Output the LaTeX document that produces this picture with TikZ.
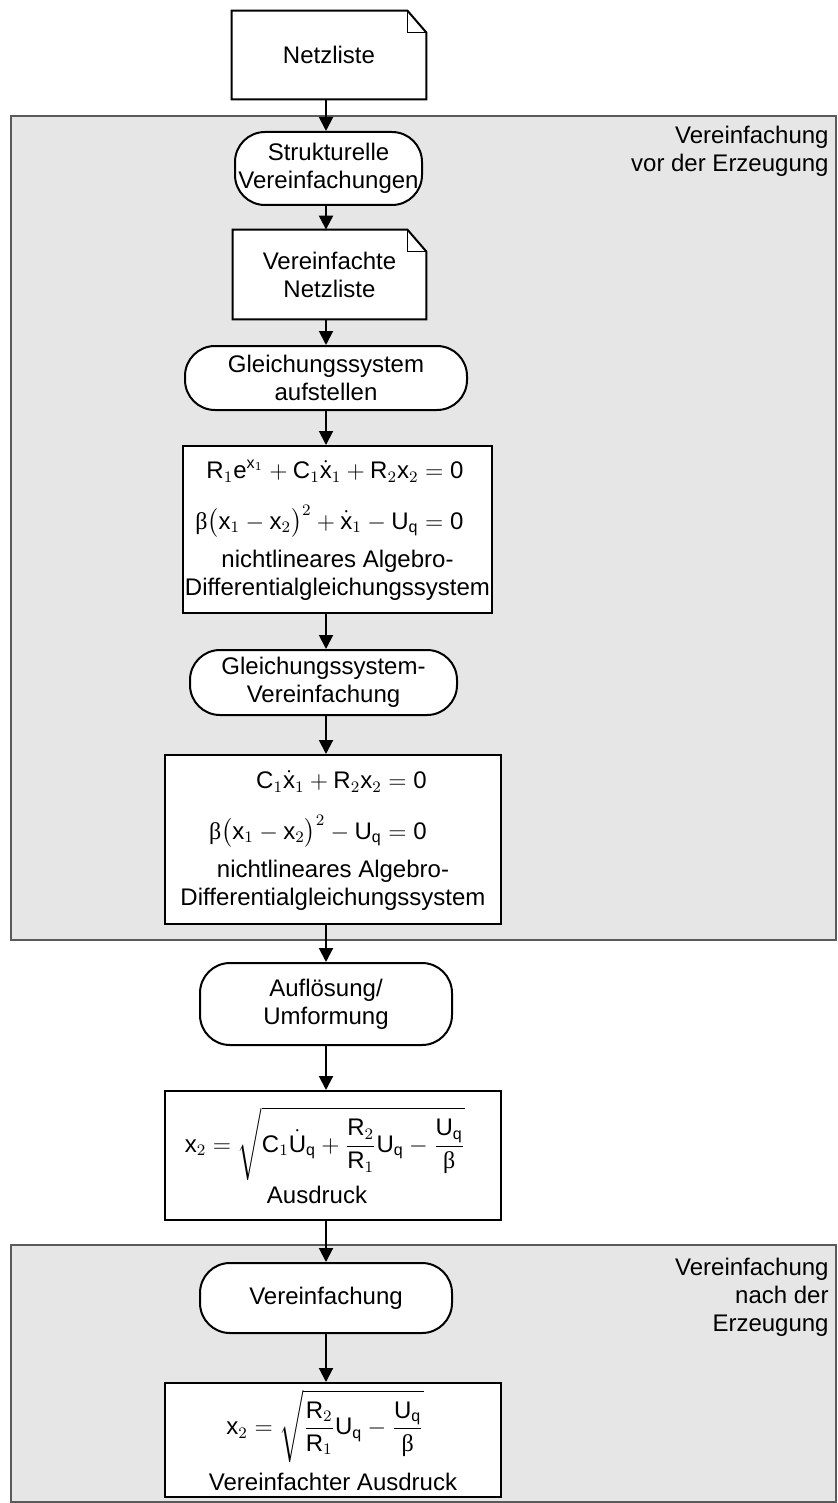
\documentclass[tikz,border=0pt]{standalone}
\usepackage{amsmath}
\usepackage{fontspec}
\setmainfont{Liberation Sans}
\newfontfamily\greekserif{Liberation Serif}
\usetikzlibrary{arrows.meta}
\pgfdeclarelayer{bg}
\pgfdeclarelayer{mid}
\pgfsetlayers{bg,mid,main}
\definecolor{groupgray}{RGB}{230,230,230}
\definecolor{groupedge}{RGB}{90,90,90}
\newcommand\T[1]{\text{#1}}
\newcommand\bt{\text{\greekserif β}}
% document symbol: rectangle with folded upper right corner
\newcommand\docshape[1]{%
  \begin{pgfonlayer}{mid}
    \draw[line width=1pt, fill=white, line join=miter]
      (#1.south west) -- (#1.north west) -- ([xshift=-9.5pt]#1.north east)
      -- ([yshift=-11pt]#1.north east) -- (#1.south east) -- cycle;
    \draw[line width=0.8pt] ([xshift=-9.5pt]#1.north east) |- ([yshift=-11pt]#1.north east);
  \end{pgfonlayer}}
\begin{document}
\begin{tikzpicture}[x=0.5pt, y=-0.5pt,
  font=\fontsize{12}{14}\selectfont,
  group/.style={fill=groupgray, draw=groupedge, line width=1pt},
  grouplabel/.style={anchor=north east, align=right, inner sep=0pt},
  proc/.style={draw, fill=white, rounded corners=15pt, line width=1pt, inner sep=0pt, align=center},
  res/.style={draw, fill=white, line width=1pt, inner sep=0pt, align=center},
  docnode/.style={inner sep=0pt, align=center},
  arr/.style={line width=1pt, -{Triangle[width=7pt,length=7pt]}}]
\useasboundingbox (0,0) rectangle (837,1503);

% groups
\begin{pgfonlayer}{bg}
  \draw[group] (11,116) rectangle (836,940);
  \draw[group] (11,1245) rectangle (836,1502);
\end{pgfonlayer}
\node[grouplabel] (g1) at (829,126) {Vereinfachung\\vor der Erzeugung};
\node[grouplabel] (g2) at (829,1258) {Vereinfachung\\nach der\\Erzeugung};

\coordinate (axis) at (326,0);

\node[docnode, minimum width=97pt, minimum height=44pt] (netz) at (329,55) {Netzliste};
\docshape{netz}
\node[proc, minimum width=93.5pt, minimum height=36.5pt] (strukt) at (328.5,168.5) {Strukturelle\\Vereinfachungen};
\node[docnode, minimum width=96.5pt, minimum height=44.5pt] (vnetz) at (329.5,274.5) {Vereinfachte\\Netzliste};
\docshape{vnetz}
\node[proc, minimum width=141pt, minimum height=32pt] (aufst) at (326,378) {Gleichungssystem\\aufstellen};
\node[res, minimum width=154.5pt, minimum height=83.5pt] (dae1) at (337.5,529.5) {%
  $\begin{aligned}
    \T{R}_1\T{e}^{\T{x}_1}+\T{C}_1\dot{\T{x}}_1+\T{R}_2\T{x}_2 &= \T{0}\\[5pt]
    \bt\bigl(\T{x}_1-\T{x}_2\bigr)^2+\dot{\T{x}}_1-\T{U}_\T{q} &= \T{0}
  \end{aligned}$\hspace*{8pt}\\[5pt]
  nichtlineares Algebro-\\Differentialgleichungssystem};
\node[proc, minimum width=133.5pt, minimum height=32.5pt] (gsv) at (323.5,682.5) {Gleichungssystem-\\Vereinfachung};
\node[res, minimum width=168pt, minimum height=84.5pt] (dae2) at (333,839.5) {%
  $\begin{aligned}
    \T{C}_1\dot{\T{x}}_1+\T{R}_2\T{x}_2 &= \T{0}\\[5pt]
    \bt\bigl(\T{x}_1-\T{x}_2\bigr)^2-\T{U}_\T{q} &= \T{0}
  \end{aligned}$\hspace*{15pt}\\[5pt]
  nichtlineares Algebro-\\Differentialgleichungssystem};
\node[proc, minimum width=126pt, minimum height=41pt] (aufl) at (326,1004) {Auflösung/\\Umformung};
\node[res, minimum width=168pt, minimum height=64.5pt] (ausd) at (333,1155.5) {%
  $\displaystyle \T{x}_2=\sqrt{\T{C}_1\dot{\T{U}}_\T{q}+\frac{\T{R}_2}{\T{R}_1}\T{U}_\T{q}-\frac{\T{U}_\T{q}}{\bt}}$\hspace*{8pt}\\[2pt]
  Ausdruck\hspace*{16pt}};
\node[proc, minimum width=126pt, minimum height=35pt] (verein) at (326,1298) {Vereinfachung};
\node[res, minimum width=168pt, minimum height=57pt] (vausd) at (333,1440) {%
  $\displaystyle \T{x}_2=\sqrt{\frac{\T{R}_2}{\T{R}_1}\T{U}_\T{q}-\frac{\T{U}_\T{q}}{\bt}}$\hspace*{8pt}\\[4pt]
  Vereinfachter Ausdruck};

% flow
\draw[arr] (netz.south -| axis) -- (strukt.north -| axis);
\draw[arr] (strukt.south -| axis) -- (vnetz.north -| axis);
\draw[arr] (vnetz.south -| axis) -- (aufst.north -| axis);
\draw[arr] (aufst.south -| axis) -- (dae1.north -| axis);
\draw[arr] (dae1.south -| axis) -- (gsv.north -| axis);
\draw[arr] (gsv.south -| axis) -- (dae2.north -| axis);
\draw[arr] (dae2.south -| axis) -- (aufl.north -| axis);
\draw[arr] (aufl.south -| axis) -- (ausd.north -| axis);
\draw[arr] (ausd.south -| axis) -- (verein.north -| axis);
\draw[arr] (verein.south -| axis) -- (vausd.north -| axis);
\end{tikzpicture}
\end{document}
